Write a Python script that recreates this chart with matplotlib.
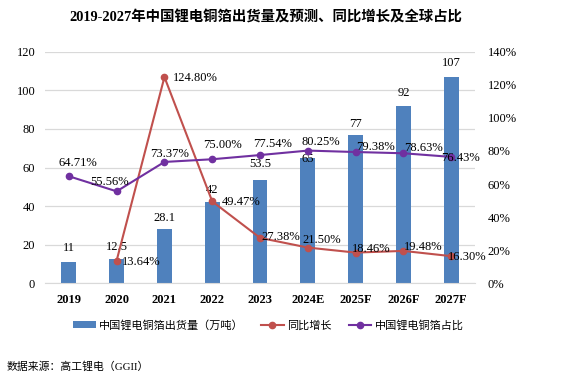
import numpy as np
import matplotlib.pyplot as plt

plt.rcParams['font.family'] = ['Liberation Serif', 'Noto Sans CJK SC']

years = ["2019", "2020", "2021", "2022", "2023", "2024E", "2025F", "2026F", "2027F"]
shipments = [11, 12.5, 28.1, 42, 53.5, 65, 77, 92, 107]
yoy = [None, 13.64, 124.80, 49.47, 27.38, 21.50, 18.46, 19.48, 16.30]
share = [64.71, 55.56, 73.37, 75.00, 77.54, 80.25, 79.38, 78.63, 76.43]

bar_c = "#4f81bd"
red_c = "#c0504d"
pur_c = "#7030a0"

fig = plt.figure(figsize=(5.69, 3.82), dpi=100)
ax = fig.add_axes([0.079, 0.259, 0.756, 0.605])
ax2 = ax.twinx()

x = np.arange(len(years))
ax.bar(x, shipments, 0.31, color=bar_c, zorder=2, label="中国锂电铜箔出货量（万吨）")
ax.set_ylim(0, 120)
ax.set_yticks(range(0, 121, 20))
ax.set_xlim(-0.5, len(years) - 0.5)
ax.set_xticks(x)
ax.set_xticklabels(years, fontweight="bold")
ax.grid(axis="y", color="#d9d9d9", lw=0.9, zorder=0)
ax.set_axisbelow(True)
for s in ["top", "right", "left"]:
    ax.spines[s].set_visible(False)
ax.spines["bottom"].set_color("#d9d9d9")
ax.tick_params(length=0, labelsize=9)
ax.tick_params(axis="y", pad=7)
ax.tick_params(axis="x", pad=8)

# bar value labels (pixel offsets above the bar top)
bar_dy = [14, 12, 11, 12, 16, -1, 11, 13, 14]
for i, v in enumerate(shipments):
    ax.annotate(f"{v:g}", (i, v), xytext=(0, bar_dy[i]), textcoords="offset pixels",
                ha="center", va="center", fontsize=9)

# lines on right axis
xr = [i for i, v in enumerate(yoy) if v is not None]
yr = [v for v in yoy if v is not None]
ax2.plot(xr, yr, color=red_c, lw=1.5, marker="o", ms=4.5, zorder=3, label="同比增长")
ax2.plot(x, share, color=pur_c, lw=1.5, marker="o", ms=4.5, zorder=3, label="中国锂电铜箔占比")
ax2.set_ylim(0, 140)
ax2.set_yticks(range(0, 141, 20))
ax2.set_yticklabels([f"{t}%" for t in range(0, 141, 20)])
for s in ["top", "right", "left", "bottom"]:
    ax2.spines[s].set_visible(False)
ax2.tick_params(length=0, labelsize=9, pad=9)

red_off = {1: (25, -1), 2: (31, -1), 3: (29, -1), 4: (21, 1), 5: (14, 8),
           6: (16, 4), 7: (20, 4), 8: (16, -1)}
for i, v in zip(xr, yr):
    dx, dy = red_off[i]
    ax2.annotate(f"{v:.2f}%", (i, v), xytext=(dx, dy), textcoords="offset pixels",
                 ha="center", va="center", fontsize=9)

pur_off = [(9, 13), (-7, 9), (5, 8), (10, 14), (13, 11), (13, 9), (20, 5), (20, 5), (9, -1)]
for i, v in enumerate(share):
    dx, dy = pur_off[i]
    ax2.annotate(f"{v:.2f}%", (i, v), xytext=(dx, dy), textcoords="offset pixels",
                 ha="center", va="center", fontsize=9)

fig.text(0.468, 0.953, "2019-2027年中国锂电铜箔出货量及预测、同比增长及全球占比",
         ha="center", va="center", fontsize=10.4, fontweight="bold")

h1, l1 = ax.get_legend_handles_labels()
h2, l2 = ax2.get_legend_handles_labels()
fig.legend(h1 + h2, l1 + l2, loc="center", bbox_to_anchor=(0.472, 0.149), ncol=3,
           frameon=False, fontsize=8, handlelength=2.0, columnspacing=1.6, handletextpad=0.3)

fig.text(0.012, 0.04, "数据来源：高工锂电（GGII）", ha="left", va="center", fontsize=7.8)

fig.savefig("out.png", dpi=100)
